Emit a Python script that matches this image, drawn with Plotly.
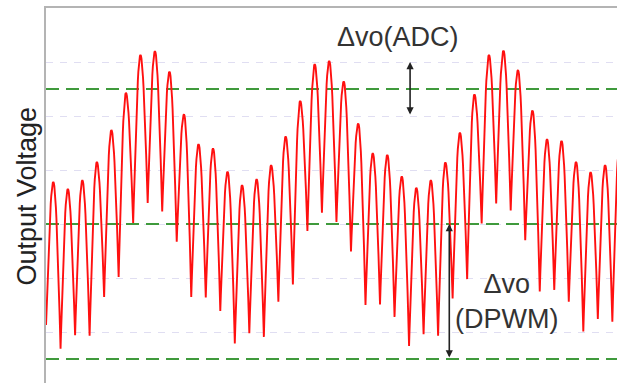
import numpy as np
import plotly.graph_objects as go

# Cycle peaks (value at cycle k) and troughs (value between cycle k and k+1)
peaks = [3.78, 3.65, 3.81, 4.15, 4.74, 5.43, 6.13, 6.20, 5.82, 5.03,
         4.48, 4.40, 3.97, 3.72, 3.83, 4.09, 4.62, 5.28, 5.96, 6.02,
         5.64, 4.86, 4.31, 4.28, 3.88, 3.67, 3.81, 4.14, 4.69, 5.40,
         6.13, 6.21, 5.85, 5.10, 4.57, 4.54, 4.15, 3.96, 4.09, 4.46]
troughs = [1.13, 0.69, 0.94, 0.93, 1.65, 2.02, 3.02, 3.39, 3.23, 2.67,
           1.65, 1.64, 1.39, 0.79, 0.98, 0.91, 1.56, 1.88, 2.87, 3.21,
           3.04, 2.49, 1.50, 1.51, 1.28, 0.74, 0.96, 0.93, 1.62, 1.98,
           3.01, 3.38, 3.25, 2.70, 1.75, 1.78, 1.56, 1.01, 1.24, 1.19]
# troughs[0] is before the first peak; troughs[k+1] follows peaks[k]

green_levels = [0.5, 3.0, 5.5]
grid_levels = [1, 2, 3, 4, 5, 6, 7]
x_range = [-0.503, 38.82]

# Build the waveform: rounded arcs with sharp cusps between the read extrema
n = 14
xs, ys = [], []
for k, p in enumerate(peaks):
    t_left = troughs[k]
    u = np.linspace(0, 1, n, endpoint=False)
    xs.extend(k - 0.5 + 0.5 * u)
    ys.extend(t_left + (p - t_left) * np.sin(np.pi / 2 * u))
    if k + 1 < len(troughs):
        t_right = troughs[k + 1]
        u2 = np.linspace(0, 1, n, endpoint=False)
        xs.extend(k + 0.5 * u2)
        ys.extend(t_right + (p - t_right) * np.cos(np.pi / 2 * u2))
    else:
        u2 = np.linspace(0, 1, n)
        xs.extend(k + 0.5 * u2)
        ys.extend(p - 0.3 * (1 - np.cos(np.pi / 2 * u2)))

fig = go.Figure()

for g in green_levels:
    fig.add_trace(go.Scatter(x=x_range, y=[g, g], mode="lines",
                             line=dict(color="#3f9a3c", width=2, dash="13px,7px"),
                             hoverinfo="skip", showlegend=False))

fig.add_trace(go.Scatter(x=xs, y=ys, mode="lines",
                         line=dict(color="#ff1010", width=1.9),
                         hoverinfo="skip", showlegend=False))

font = dict(family="Liberation Sans, Arial, sans-serif", size=27, color="#333333")

fig.add_annotation(x=23.75, y=6.47, xref="x", yref="y", text="Δvo(ADC)",
                   showarrow=False, font=font)
fig.add_annotation(x=31.2, y=1.56, xref="x", yref="y", text="Δvo<br>(DPWM)",
                   showarrow=False, font=font, align="center")
fig.add_annotation(x=0, y=0.5, xref="paper", yref="paper", text="Output Voltage",
                   textangle=-90, showarrow=False, xanchor="center", yanchor="middle",
                   xshift=-20, yshift=-1,
                   font=dict(family="Liberation Sans, Arial, sans-serif",
                             size=27, color="#222222"))

# Double-headed arrows
fig.add_annotation(x=24.57, y=6.0, ax=24.57, ay=5.0, xref="x", yref="y",
                   axref="x", ayref="y", text="", showarrow=True,
                   arrowhead=2, startarrowhead=2, arrowside="end+start",
                   arrowsize=0.9, arrowwidth=1.6, arrowcolor="#222222")
fig.add_annotation(x=27.27, y=3.0, ax=27.27, ay=0.5, xref="x", yref="y",
                   axref="x", ayref="y", text="", showarrow=True,
                   arrowhead=2, startarrowhead=2, arrowside="end+start",
                   arrowsize=0.9, arrowwidth=1.6, arrowcolor="#222222")

fig.update_layout(
    width=617, height=383,
    margin=dict(l=46, r=0, t=8, b=0, autoexpand=False),
    paper_bgcolor="white", plot_bgcolor="white",
    xaxis=dict(range=x_range, showgrid=False, zeroline=False,
               showticklabels=False, ticks="", showline=True, side="top",
               linecolor="#b4b4b4", linewidth=1.5),
    yaxis=dict(range=[0.056, 7.0], tickvals=grid_levels, showticklabels=False,
               ticks="", showgrid=True, gridcolor="#e0def2", gridwidth=1,
               griddash="7px,7px", zeroline=False, showline=True,
               linecolor="#b4b4b4", linewidth=1.5),
)

fig.write_html("out.html", config={"displayModeBar": False},
               post_script="document.body.style.margin='0';document.body.style.overflow='hidden';")
